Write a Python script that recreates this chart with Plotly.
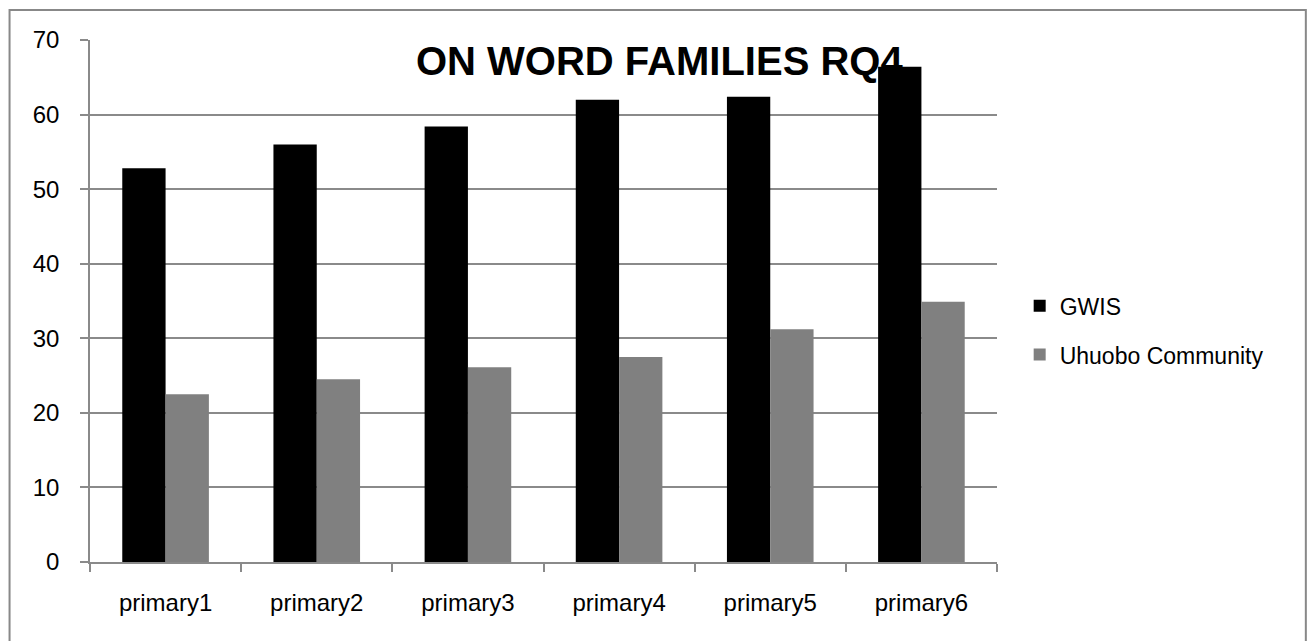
import plotly.graph_objects as go

# Mean scores on word families (RQ4) by class level
categories = ["primary1", "primary2", "primary3", "primary4", "primary5", "primary6"]
gwis = [52.8, 56.0, 58.4, 62.0, 62.4, 66.4]
uhuobo = [22.5, 24.5, 26.1, 27.5, 31.2, 34.9]
y_ticks = [0, 10, 20, 30, 40, 50, 60, 70]

FONT = "Liberation Sans, Arial, sans-serif"
GRID = "#8a8a8a"

fig = go.Figure()
fig.add_trace(go.Bar(
    name="GWIS", x=categories, y=gwis,
    marker=dict(color="#000000", line=dict(width=0)),
    legendgroup="a",
))
fig.add_trace(go.Bar(
    name="Uhuobo Community", x=categories, y=uhuobo,
    marker=dict(color="#808080", line=dict(width=0)),
    legendgroup="b",
))

fig.update_layout(
    width=1312, height=641,
    margin=dict(l=90, r=315, t=40, b=79, pad=0),
    paper_bgcolor="white", plot_bgcolor="white",
    barmode="group", bargap=0.427, bargroupgap=0,
    font=dict(family=FONT, size=24, color="#000000"),
    showlegend=True,
    legend=dict(
        x=1.025, xanchor="left", y=0.444, yanchor="middle",
        font=dict(family=FONT, size=23, color="#000000"),
        traceorder="grouped", tracegroupgap=16,
        itemwidth=30, bgcolor="rgba(0,0,0,0)",
    ),
    xaxis=dict(
        type="category",
        showline=True, linecolor=GRID, linewidth=1.5,
        ticks="outside", tickson="boundaries", ticklen=8,
        tickcolor=GRID, tickwidth=1.5,
        showgrid=False, zeroline=False,
        ticklabelstandoff=18,
        tickfont=dict(family=FONT, size=24, color="#000000"),
    ),
    yaxis=dict(
        range=[0, 70], tickvals=y_ticks,
        showline=True, linecolor=GRID, linewidth=1.5,
        ticks="outside", ticklen=8, tickcolor=GRID, tickwidth=1.5,
        showgrid=True, gridcolor=GRID, gridwidth=1.5,
        zeroline=False,
        ticklabelstandoff=16,
        tickfont=dict(family=FONT, size=24, color="#000000"),
    ),
    annotations=[dict(
        text="<b>ON WORD FAMILIES RQ4</b>",
        xref="paper", yref="paper", x=0.6275, y=0.96,
        xanchor="center", yanchor="middle", showarrow=False,
        font=dict(family=FONT, size=40, color="#000000"),
    )],
    shapes=[dict(
        type="rect", xref="paper", yref="paper",
        x0=-0.0887, x1=1.3405, y0=-0.2, y1=1.0574,
        line=dict(color="#888888", width=2), fillcolor="rgba(0,0,0,0)",
        layer="below",
    )],
)

fig.write_html("out.html")
